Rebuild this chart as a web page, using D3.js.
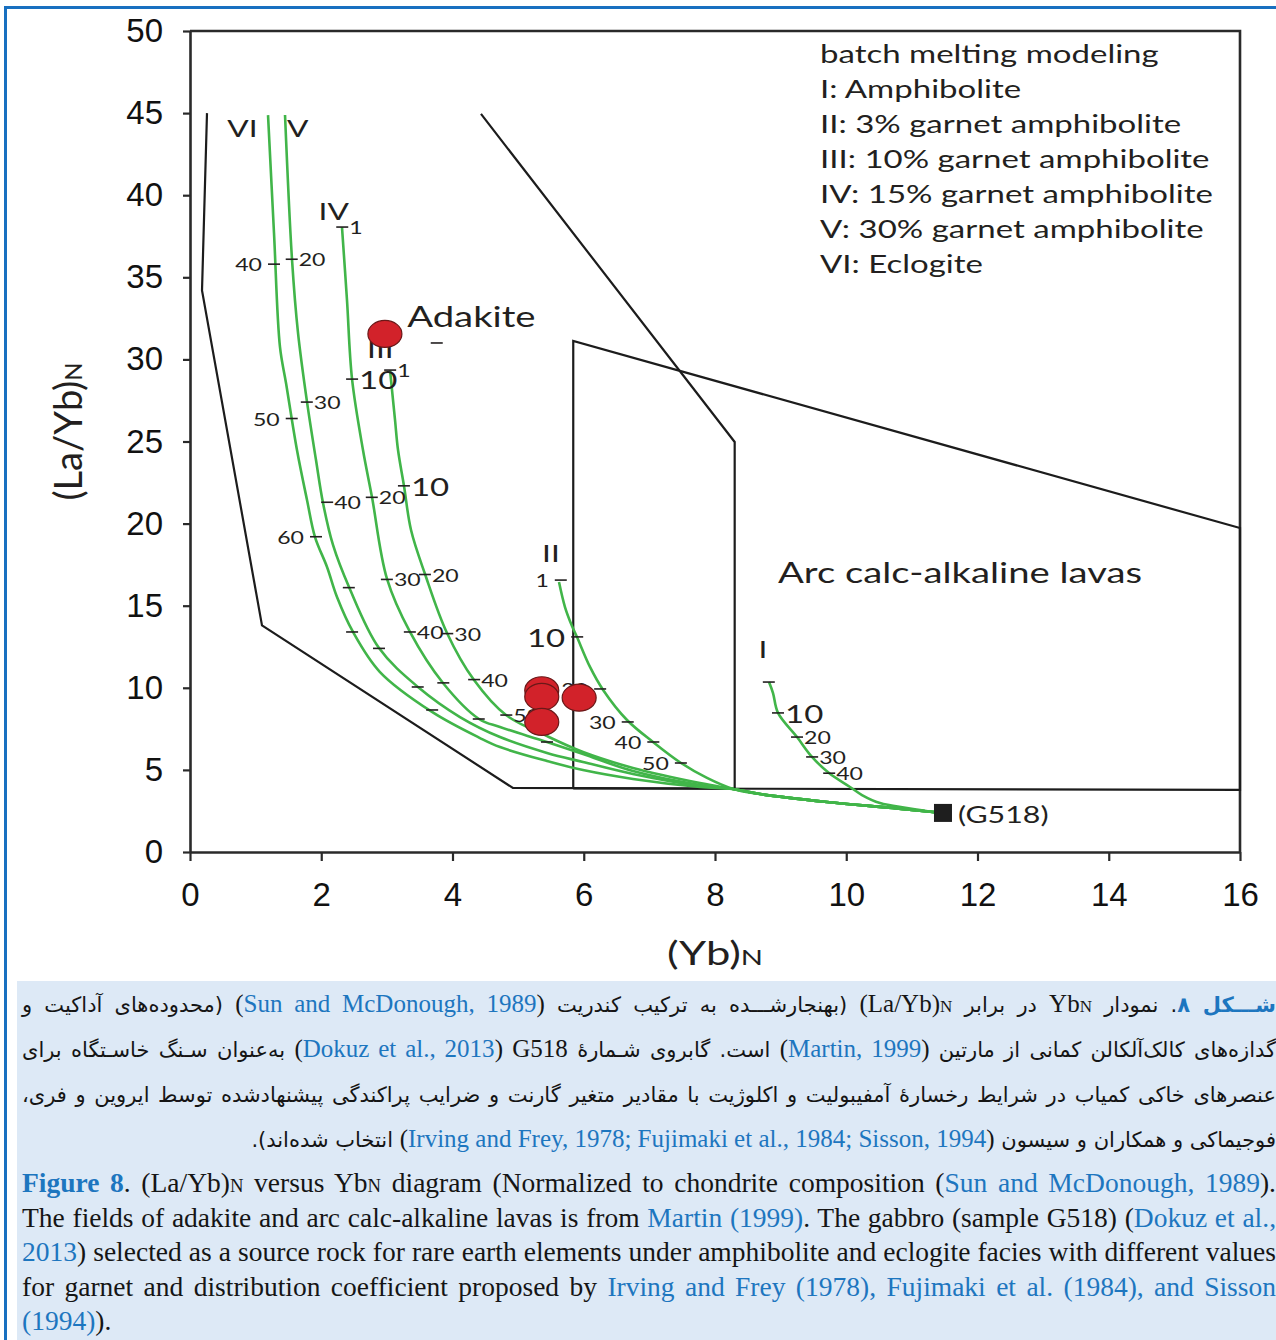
<!DOCTYPE html>
<html><head><meta charset="utf-8">
<script src="https://cdn.jsdelivr.net/npm/d3@7"></script>
<style>
html,body{margin:0;padding:0;background:#fff;overflow:hidden;}
#page{position:relative;width:1276px;height:1340px;background:#fff;overflow:hidden;}
.cap{position:absolute;left:17px;top:981px;width:1259px;height:359px;background:#dde9f6;}
.line{position:absolute;left:22px;width:1254px;height:40px;line-height:40px;white-space:nowrap;
  text-align:justify;text-align-last:justify;font-family:"Liberation Serif","Times New Roman",serif;color:#151515;}
.faL{font-size:25px;}
.enL{font-size:27.5px;}
.fa{font-family:"DejaVu Sans",sans-serif;font-size:21px;}
.lnk{color:#1d76bf;}
.bold{font-weight:bold;}
.sub{font-size:0.68em;}
.iso{unicode-bidi:isolate;direction:ltr;}
</style></head><body><div id="page"></div>
<script>
// ---------------- data ----------------
const xTicks = [0,2,4,6,8,10,12,14,16];
const yTicks = [0,5,10,15,20,25,30,35,40,45,50];

// melting curves (Yb_N, (La/Yb)_N)
const curveVI = [[1.189,44.88],[1.280,37.70],[1.371,30.76],[1.463,28.56],[1.630,24.48],[1.783,21.44],[1.905,19.18],[2.088,17.36],[2.240,15.53],[2.484,13.40],[2.895,10.96],[3.688,8.53],[4.419,6.94],[4.724,6.39],[5.440,5.54],[5.989,4.99],[6.750,4.45],[7.771,3.96],[8.274,3.84]];
const curveV  = [[1.448,44.88],[1.554,36.11],[1.646,31.61],[1.783,27.41],[1.920,23.87],[2.027,21.25],[2.179,18.70],[2.423,16.14],[2.880,12.42],[3.474,10.05],[4.114,8.22],[4.724,7.00],[5.440,6.03],[5.989,5.48],[6.750,4.75],[7.771,4.02],[8.274,3.84]];
const curveIV = [[2.316,38.06],[2.392,33.62],[2.469,28.81],[2.636,24.48],[2.773,21.62],[3.002,16.63],[3.352,13.40],[3.855,10.29],[4.404,8.10],[4.724,7.61],[5.440,6.70],[5.989,5.97],[6.750,4.93],[7.771,4.08],[8.274,3.84]];
const curveIII= [[3.048,29.35],[3.124,26.31],[3.170,24.48],[3.261,22.29],[3.368,19.61],[3.581,16.93],[3.916,13.34],[4.328,10.47],[4.815,8.34],[5.440,7.06],[5.989,6.09],[6.750,5.12],[7.771,4.20],[8.274,3.84]];
const curveII = [[5.623,16.44],[5.714,14.92],[5.821,13.76],[5.897,13.09],[6.095,11.27],[6.295,9.87],[6.659,8.04],[7.055,6.70],[7.482,5.42],[7.878,4.51],[8.274,3.84]];
const curveI  = [[8.823,10.35],[8.884,9.68],[8.960,8.47],[9.250,7.00],[9.478,5.79],[9.737,4.81],[10.057,3.96],[10.240,3.47],[10.514,2.98],[10.926,2.68],[11.322,2.44],[11.474,2.38]];
const sharedTail = [[8.274,3.84],[8.686,3.53],[9.707,3.05],[10.71,2.68],[11.32,2.44],[11.474,2.38]];

// tick marks on curves: [Yb, La/Yb, label, side, big]
const ticksVI  = [[1.28,35.8,"40","L"],[1.55,26.4,"50","L"],[1.92,19.2,"60","L"],[2.47,13.4,"","L"],[3.69,8.65,"","L"]];
const ticksV   = [[1.55,36.1,"20","R"],[1.78,27.4,"30","R"],[2.09,21.3,"40","R"],[2.42,16.1,"","R"],[2.88,12.4,"","R"],[3.47,10.05,"","R"]];
const ticksIV  = [[2.32,38.06,"1","R"],[2.47,28.8,"10","R",1],[2.77,21.6,"20","R"],[3.0,16.6,"30","R"],[3.35,13.4,"40","R"],[3.86,10.3,"","R"],[4.40,8.1,"","R"],[5.44,6.7,"","R"]];
const ticksIII = [[3.05,29.35,"1","R"],[3.26,22.3,"10","R",1],[3.58,16.9,"20","R"],[3.92,13.3,"30","R"],[4.33,10.5,"40","R"],[4.82,8.34,"50","R"]];
const ticksII  = [[5.65,16.56,"1","L"],[5.9,13.1,"10","L",1],[6.25,9.93,"20","L"],[6.67,7.92,"30","L"],[7.06,6.7,"40","L"],[7.48,5.42,"50","L"]];
const ticksI   = [[8.82,10.35,"","R"],[8.96,8.47,"10","R",1],[9.25,7.0,"20","R"],[9.48,5.79,"30","R"],[9.74,4.8,"40","R"]];
const strayTicks = [[3.76,31.0,"","R"]];

const curveNames = [["VI",0.80,43.54],["V",1.64,43.54],["IV",2.19,38.49],["III",2.90,30.09],["II",5.50,17.66],["I",8.73,11.80]];

// field outlines
const adakiteField = [[0.259,45.0],[0.183,34.2],[1.097,13.8],[4.92,3.90],[8.30,3.86],[8.30,24.97],[4.434,44.95]];
const arcField = [[5.84,3.88],[5.84,31.12],[16,19.73],[16,3.78],[5.84,3.88]];
const fieldLabels = [["Adakite",3.31,32.0],["Arc calc-alkaline lavas",8.96,16.38]];

// samples
const sampleYb   = [2.97,5.36,5.36,5.36,5.93];
const sampleLaYb = [31.55,9.85,9.45,7.92,9.40];
const sourceG518 = [11.474,2.38];

const legendLines = ["batch melting modeling","I: Amphibolite","II: 3% garnet amphibolite","III: 10% garnet amphibolite","IV: 15% garnet amphibolite","V: 30% garnet amphibolite","VI: Eclogite"];

// caption segments: [type, text]
const captionFa = [
  [["faB","شـــکل ۸"],["fa",". نمودار "],["isoS"],["en","Yb"],["sub","N"],["isoE"],["fa"," در برابر "],["isoS"],["en","(La/Yb)"],["sub","N"],["isoE"],["fa"," (بهنجارشـــده به ترکیب کندریت "],["isoS"],["en","("],["lnk","Sun and McDonough, 1989"],["en",")"],["isoE"],["fa"," (محدوده‌های آداکیت و"]],
  [["fa","گدازه‌های کالک‌آلکالن کمانی از مارتین "],["isoS"],["en","("],["lnk","Martin, 1999"],["en",")"],["isoE"],["fa"," است. گابروی شـمارۀ "],["isoS"],["en","G518"],["isoE"],["fa"," "],["isoS"],["en","("],["lnk","Dokuz et al., 2013"],["en",")"],["isoE"],["fa"," به‌عنوان سـنگ خاسـتگاه برای"]],
  [["fa","عنصرهای خاکی کمیاب در شرایط رخسارۀ آمفیبولیت و اکلوژیت با مقادیر متغیر گارنت و ضرایب پراکندگی پیشنهادشده توسط ایروین و فری،"]],
  [["fa","فوجیماکی و همکاران و سیسون "],["isoS"],["en","("],["lnk","Irving and Frey, 1978; Fujimaki et al., 1984; Sisson, 1994"],["en",")"],["isoE"],["fa"," انتخاب شده‌اند)."]]
];
const captionEn = [
  [["enB","Figure 8"],["en",". (La/Yb)"],["sub","N"],["en"," versus Yb"],["sub","N"],["en"," diagram (Normalized to chondrite composition ("],["lnk","Sun and McDonough, 1989"],["en",")."]],
  [["en","The fields of adakite and arc calc-alkaline lavas is from "],["lnk","Martin (1999)"],["en",". The gabbro (sample G518) ("],["lnk","Dokuz et al.,"]],
  [["lnk","2013"],["en",") selected as a source rock for rare earth elements under amphibolite and eclogite facies with different values"]],
  [["en","for garnet and distribution coefficient proposed by "],["lnk","Irving and Frey (1978), Fujimaki et al. (1984), and Sisson"]],
  [["lnk","(1994)"],["en",")."]]
];

// ---------------- drawing ----------------
const SX = 1.32;
const LF = 'Lato, "Open Sans", sans-serif';
const TXT = "#231f20";
const GREEN = "#41b549";
const INK = "#2a2a2a";

const x = d3.scaleLinear().domain([0,16]).range([190,1240]);
const y = d3.scaleLinear().domain([0,50]).range([852,31]);

const page = d3.select("#page");
const svg = page.append("svg").attr("width",1276).attr("height",1340)
  .style("position","absolute").style("left",0).style("top",0);

// outer blue frame
svg.append("path").attr("d","M5.5,1340 V7.5 H1276").attr("fill","none").attr("stroke","#1870c0").attr("stroke-width",3);

function stext(g, px, py, str, size, anchor){
  return g.append("text").attr("transform",`translate(${px},${py}) scale(${SX},1)`)
    .attr("text-anchor",anchor||"start").attr("font-size",size).attr("font-family",LF)
    .attr("fill",TXT).text(str);
}

// axes
const gx = svg.append("g").attr("transform",`translate(0,${y(0)})`)
  .call(d3.axisBottom(x).tickValues(xTicks).tickSize(9).tickSizeOuter(0).tickPadding(22).tickFormat(d3.format("d")));
const gy = svg.append("g").attr("transform",`translate(${x(0)},0)`)
  .call(d3.axisLeft(y).tickValues(yTicks).tickSize(7).tickSizeOuter(0).tickPadding(20).tickFormat(d3.format("d")));
[gx,gy].forEach(g=>{
  g.select(".domain").attr("stroke",INK).attr("stroke-width",2.6);
  g.selectAll(".tick line").attr("stroke",INK).attr("stroke-width",2.2);
  g.selectAll(".tick text").attr("font-family",'"Liberation Sans Narrow","Arial Narrow",sans-serif')
    .attr("font-size",33).attr("fill","#111");
});
// frame top/right
svg.append("path").attr("d",`M${x(0)},${y(50)} H${x(16)} V${y(0)}`).attr("fill","none").attr("stroke",INK).attr("stroke-width",2.6);

// axis titles
const xt = svg.append("text").attr("transform",`translate(${(x(0)+x(16))/2},965) scale(${SX},1)`)
  .attr("text-anchor","middle").attr("font-family",LF).attr("font-size",33).attr("fill",TXT);
xt.append("tspan").text("(Yb)"); xt.append("tspan").attr("font-size",22).text("N");
const yt = svg.append("text").attr("transform",`translate(82,${(y(50)+y(0))/2 - 10}) rotate(-90)`)
  .attr("text-anchor","middle").attr("font-family",LF).attr("font-size",38).attr("fill",TXT);
yt.append("tspan").text("(La/Yb)"); yt.append("tspan").attr("font-size",24).text("N");

// fields
const lin = d3.line().x(d=>x(d[0])).y(d=>y(d[1]));
const fg = svg.append("g");
[adakiteField, arcField].forEach(f=>{
  fg.append("path").attr("d",lin(f)).attr("fill","none").attr("stroke","#1c1c1c").attr("stroke-width",2.2).attr("stroke-linejoin","miter");
});

// curves
const cl = d3.line().x(d=>x(d[0])).y(d=>y(d[1])).curve(d3.curveCatmullRom.alpha(0.5));
const cg = svg.append("g");
[curveVI,curveV,curveIV,curveIII,curveII].forEach(c=>{
  cg.append("path").attr("d",cl(c.concat(sharedTail.slice(1)))).attr("fill","none").attr("stroke",GREEN).attr("stroke-width",2.6);
});
cg.append("path").attr("d",cl(curveI)).attr("fill","none").attr("stroke",GREEN).attr("stroke-width",2.6);

// ticks and labels
const tg = svg.append("g");
[ticksVI,ticksV,ticksIV,ticksIII,ticksII,ticksI,strayTicks].forEach(ts=>{
  ts.forEach(t=>{
    const px = x(t[0]), py = y(t[1]);
    tg.append("line").attr("x1",px-6).attr("x2",px+6).attr("y1",py).attr("y2",py)
      .attr("stroke",TXT).attr("stroke-width",1.6);
    if (t[2]) {
      const big = !!t[4];
      const size = big ? 25 : 17.5;
      const dy = big ? 10 : 7;
      if (t[3]==="L") stext(tg, px-12, py+dy, t[2], size, "end");
      else stext(tg, px+7, py+dy, t[2], size, "start");
    }
  });
});
curveNames.forEach(n=> stext(tg, x(n[1]), y(n[2]), n[0], 24, "middle"));
fieldLabels.forEach(n=> stext(tg, x(n[1]), y(n[2]), n[0], 29, "start"));

// legend
const lg = svg.append("g");
legendLines.forEach((s,i)=> stext(lg, x(9.6), y(48.05)+i*35, s, 25, "start"));

// samples
svg.append("g").selectAll("ellipse").data(sampleYb.map((v,i)=>[v,sampleLaYb[i]])).join("ellipse")
  .attr("cx",d=>x(d[0])).attr("cy",d=>y(d[1])).attr("rx",17).attr("ry",13.5)
  .attr("fill","#d2222a").attr("stroke","#6a1818").attr("stroke-width",1.2);

// source rock
svg.append("rect").attr("x",x(sourceG518[0])-9).attr("y",y(sourceG518[1])-9).attr("width",18).attr("height",18).attr("fill","#1e1e1e");
stext(svg, x(sourceG518[0])+15, y(sourceG518[1])+10, "(G518)", 23, "start");

// ---------------- caption ----------------
page.append("div").attr("class","cap");
function buildLine(segs, cls, dir, top, align){
  const div = page.append("div").attr("class","line "+cls).attr("dir",dir).style("top",top+"px");
  if (align) div.style("text-align",align).style("text-align-last",align);
  let cur = div;
  segs.forEach(s=>{
    const t = s[0];
    if (t==="isoS"){ cur = div.append("span").attr("class","iso"); return; }
    if (t==="isoE"){ cur = div; return; }
    const sp = cur.append("span").text(s[1]);
    if (t==="fa") sp.attr("class","fa");
    if (t==="faB") sp.attr("class","fa bold lnk");
    if (t==="enB") sp.attr("class","bold lnk");
    if (t==="lnk") sp.attr("class","lnk");
    if (t==="sub") sp.attr("class","sub");
  });
}
const faTops = [983.6,1028.6,1073.6,1118.6];
captionFa.forEach((segs,i)=> buildLine(segs,"faL","rtl",faTops[i], i===3?"right":null));
const enTops = [1162.7,1197.7,1231.7,1266.7,1300.7];
captionEn.forEach((segs,i)=> buildLine(segs,"enL","ltr",enTops[i], i===4?"left":null));
</script></body></html>
